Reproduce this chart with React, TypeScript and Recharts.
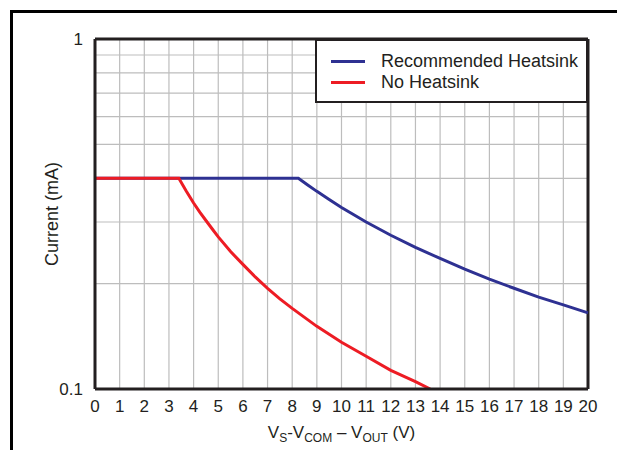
import {
  LineChart, Line, XAxis, YAxis, CartesianGrid, Legend, ReferenceLine,
} from 'recharts';

const X_TICKS = [0, 1, 2, 3, 4, 5, 6, 7, 8, 9, 10, 11, 12, 13, 14, 15, 16, 17, 18, 19, 20];
const Y_TICKS = [0.1, 0.2, 0.3, 0.4, 0.5, 0.6, 0.7, 0.8, 0.9, 1];
const Y_LABELS = ['0.1', '', '', '', '', '', '', '', '', '1'];

// Recommended heatsink
const BLUE_V = [0, 8.25, 8.6, 9, 9.5, 10, 11, 12, 13, 14, 15, 16, 17, 18, 19, 20];
const BLUE_I = [0.4, 0.4, 0.384, 0.367, 0.348, 0.33, 0.3, 0.275, 0.254, 0.236, 0.22, 0.206, 0.194, 0.183, 0.174, 0.165];

// No heatsink
const RED_V = [0, 3.4, 3.7, 4, 4.25, 4.5, 4.75, 5, 5.5, 6, 6.5, 7, 7.5, 8, 9, 10, 11, 12, 13, 13.6];
const RED_I = [0.4, 0.4, 0.368, 0.34, 0.32, 0.303, 0.287, 0.272, 0.247, 0.227, 0.209, 0.194, 0.181, 0.17, 0.151, 0.136, 0.124, 0.113, 0.105, 0.1];

const SERIES = [
  { name: 'Recommended Heatsink', color: '#2e3192', v: BLUE_V, i: BLUE_I },
  { name: 'No Heatsink', color: '#ed1c24', v: RED_V, i: RED_I },
];

const INK = '#231f20';
const FONT = '"Liberation Sans", Arial, sans-serif';

function XLabel({ viewBox }: any) {
  const cx = viewBox.x + viewBox.width / 2;
  const y = viewBox.y + 49;
  return (
    <text x={cx} y={y} textAnchor="middle" fontSize={17} fill={INK} fontFamily={FONT} style={{ whiteSpace: 'pre' }}>
      <tspan>V</tspan>
      <tspan fontSize={12} dy={4}>S</tspan>
      <tspan dy={-4}>-V</tspan>
      <tspan fontSize={12} dy={4}>COM</tspan>
      <tspan dy={-4}>{' \u2013 V'}</tspan>
      <tspan fontSize={12} dy={4}>OUT</tspan>
      <tspan dy={-4}>{' (V)'}</tspan>
    </text>
  );
}

function YLabel({ viewBox }: any) {
  const x = viewBox.x + 52;
  const y = viewBox.y + viewBox.height / 2;
  return (
    <text x={x} y={y} textAnchor="middle" dominantBaseline="central" fontSize={18} fill={INK}
      fontFamily={FONT} transform={`rotate(-90 ${x} ${y})`}>
      Current (mA)
    </text>
  );
}

function LegendBox() {
  return (
    <div style={{ padding: '10px 0 0 14px', fontFamily: FONT, fontSize: 18, color: INK }}>
      {SERIES.map(s => (
        <div key={s.name} style={{ display: 'flex', alignItems: 'center', height: 21, lineHeight: '21px' }}>
          <span style={{ width: 34, height: 3, background: s.color, marginRight: 16, display: 'inline-block' }} />
          <span>{s.name}</span>
        </div>
      ))}
    </div>
  );
}

export default function App() {
  return (
    <div style={{ position: 'fixed', left: 0, top: 0, width: 617, height: 450, overflow: 'hidden', background: '#fff' }}>
      <div style={{
        position: 'absolute', left: 10, top: 10, width: 700, height: 500,
        borderLeft: '3px solid #000', borderTop: '3px solid #000',
      }} />
      <div style={{ position: 'absolute', left: 0, top: 0 }}>
        <LineChart width={617} height={450} margin={{ top: 39, right: 29, left: 0, bottom: 0 }}>
          <CartesianGrid stroke="#bdbdbd" strokeWidth={1.2} />
          <XAxis
            type="number" dataKey="v" domain={[0, 20]} ticks={X_TICKS} interval={0}
            height={61} tickSize={0} tickMargin={11}
            tick={{ fontSize: 17, fill: INK, fontFamily: FONT }}
            axisLine={{ stroke: INK, strokeWidth: 3 }} tickLine={false}
            label={<XLabel />}
          />
          <YAxis
            type="number" scale="log" domain={[0.1, 1]} ticks={Y_TICKS} interval={0}
            allowDataOverflow width={95} tickSize={0} tickMargin={12}
            tickFormatter={(v: number) => Y_LABELS[Y_TICKS.findIndex(t => Math.abs(t - v) < 1e-9)] ?? ''}
            tick={{ fontSize: 17, fill: INK, fontFamily: FONT }}
            axisLine={{ stroke: INK, strokeWidth: 3 }} tickLine={false}
            label={<YLabel />}
          />
          <ReferenceLine y={1} stroke={INK} strokeWidth={3} />
          <ReferenceLine x={20} stroke={INK} strokeWidth={3} />
          {SERIES.map(s => (
            <Line
              key={s.name}
              name={s.name}
              data={s.v.map((v, k) => ({ v, i: s.i[k] }))}
              dataKey="i"
              type="linear"
              stroke={s.color}
              strokeWidth={3}
              dot={false}
              activeDot={false}
              isAnimationActive={false}
            />
          ))}
          <Legend
            layout="horizontal" verticalAlign="middle" align="center"
            content={<LegendBox />}
            wrapperStyle={{
              left: 315, top: 39, width: 273, height: 64, boxSizing: 'border-box',
              border: `2px solid ${INK}`, background: '#fff',
            }}
          />
        </LineChart>
      </div>
    </div>
  );
}
